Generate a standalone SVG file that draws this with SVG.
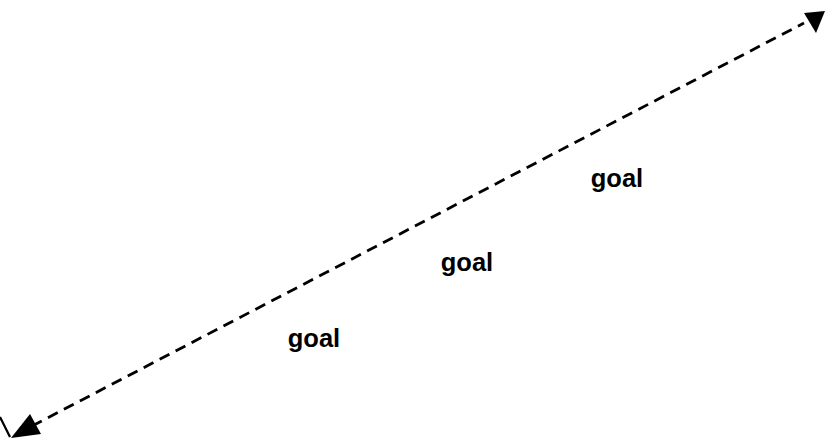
<svg xmlns="http://www.w3.org/2000/svg" width="826" height="438" viewBox="0 0 826 438">
<style>
.lbl{font-family:"Liberation Sans",Arial,sans-serif;font-weight:bold;font-size:25.5px;fill:#000;text-anchor:middle}
.edge{stroke:#000;stroke-width:2.8;fill:none;stroke-dasharray:11 7}
</style>
<rect width="826" height="438" fill="#fff"/>
<g id="connectors">
<line x1="0" y1="417" x2="10" y2="437" stroke="#000" stroke-width="2.2"/>
<path class="edge" d="M32,426 L804,23"/>
<path d="M11,438 L30,414 L41,434 z" fill="#000"/>
<path d="M825,11 L816,33 L804,13 z" fill="#000"/>
</g>
<g id="label1"><text class="lbl" x="314" y="347">goal</text></g>
<g id="label2"><text class="lbl" x="467" y="271">goal</text></g>
<g id="label3"><text class="lbl" x="617" y="187">goal</text></g>
</svg>
